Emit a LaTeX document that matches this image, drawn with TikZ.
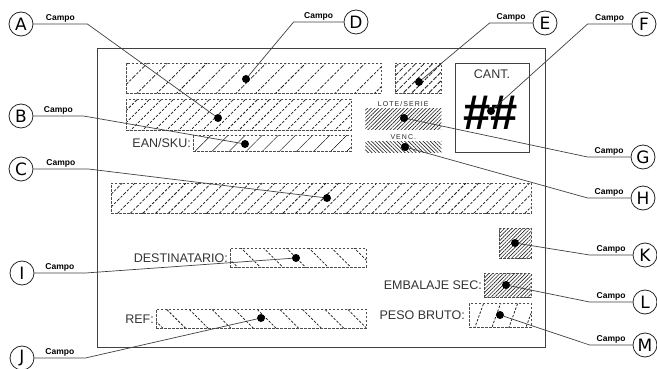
\documentclass[tikz,border=0pt]{standalone}
\usepackage{fontspec}
\setmainfont{Liberation Sans}
\newfontfamily\circfont{DejaVu Sans}
\usetikzlibrary{patterns.meta, positioning}

\begin{document}
\begin{tikzpicture}[
  x=1pt, y=-1pt,
  every node/.style={font=\fontsize{12.5}{14}\selectfont},
  frame/.style={draw=black!75, line width=0.8pt, anchor=north west, inner sep=0pt},
  field/.style={draw=black!70, dash pattern=on 2.4pt off 1.6pt, line width=0.6pt, anchor=north west, inner sep=0pt},
  bare/.style={anchor=north west, inner sep=0pt},
  hatch/.style args={#1/#2}{pattern={Lines[angle=#1, distance=#2, line width=0.75pt]}, pattern color=black!90},
  dense/.style={pattern={Lines[angle=#1, distance=2.6pt, line width=0.65pt]}, pattern color=black!85},
  lbl/.style={text=black!80, inner sep=1pt},
  tiny/.style={font=\fontsize{7}{8}\selectfont\addfontfeature{LetterSpace=15}, text=black!85, inner sep=1pt},
  dot/.style={circle, fill=black, minimum size=8pt, inner sep=0pt},
  callout/.style={circle, draw=black!85, line width=0.8pt, fill=white, minimum size=24pt, inner sep=0pt, font=\circfont\fontsize{17}{17}\selectfont},
  leader/.style={draw=black!75, line width=0.7pt},
  campo/.style={font=\fontsize{8.5}{9}\selectfont\bfseries, above, inner sep=1.5pt}
]
\useasboundingbox (0,0) rectangle (657,369);

% === LABEL FRAME ===
\node[frame, minimum width=448pt, minimum height=299pt] (panel) at (97,48) {};
\node[frame, minimum width=74pt, minimum height=89pt] (cantbox) at (455,63) {};
\node[lbl] (cant) at (492,74) {CANT.};
\node[font=\fontsize{49}{49}\selectfont\bfseries] (hash) at (491,113) {\#\#};

% === FIELDS ===
\node[field, hatch=45/14pt, minimum width=255pt, minimum height=30pt] (fD) at (126,63) {};
\node[field, hatch=45/6pt, minimum width=46pt, minimum height=30pt] (fE) at (395,63) {};
\node[field, hatch=45/8.5pt, minimum width=225pt, minimum height=31pt] (fA) at (126,99) {};
\node[field, hatch=45/13pt, minimum width=158pt, minimum height=16pt] (fEan) at (193,135) {};
\node[lbl, left=1pt of fEan] (tEan) {EAN/SKU:};

\node[bare, dense=45, minimum width=76pt, minimum height=21pt] (fLote) at (365,108) {};
\node[tiny, above=0pt of fLote] (tLote) {LOTE/SERIE};
\node[bare, dense=-45, minimum width=76pt, minimum height=11pt] (fVenc) at (365,141) {};
\node[tiny, above=0pt of fVenc] (tVenc) {VENC.};

\node[field, hatch=45/9pt, minimum width=420pt, minimum height=30pt] (fC) at (111,183) {};

\node[field, dense=45, minimum width=32pt, minimum height=30pt] (fK) at (499,228) {};
\node[field, hatch=-45/16pt, minimum width=136pt, minimum height=19pt] (fDest) at (230,248) {};
\node[lbl, left=1pt of fDest] (tDest) {DESTINATARIO:};
\node[field, dense=45, minimum width=47pt, minimum height=24pt] (fEmb) at (484,273) {};
\node[lbl, left=1pt of fEmb] (tEmb) {EMBALAJE SEC:};
\node[field, hatch=-45/16pt, minimum width=210pt, minimum height=19pt] (fRef) at (156,309) {};
\node[lbl, left=1pt of fRef] (tRef) {REF:};
\node[field, hatch=70/16pt, minimum width=62pt, minimum height=24pt] (fPeso) at (469,303) {};
\node[lbl, left=3pt of fPeso] (tPeso) {PESO BRUTO:};

% === DOTS ===
\node[dot] (pA) at (218,118) {};
\node[dot] (pB) at (245,144) {};
\node[dot] (pC) at (327,198) {};
\node[dot] (pD) at (246,79) {};
\node[dot] (pE) at (419,82) {};
\node[dot] (pF) at (491,111) {};
\node[dot] (pG) at (404,118) {};
\node[dot] (pH) at (405,147) {};
\node[dot] (pI) at (296,258) {};
\node[dot] (pJ) at (261,318) {};
\node[dot] (pK) at (515,243) {};
\node[dot] (pL) at (506,285) {};
\node[dot] (pM) at (500,315) {};

% === CALLOUTS ===
\node[callout] (cA) at (21,24) {A};
\node[callout] (cB) at (21,116) {B};
\node[callout] (cC) at (21,169) {C};
\node[callout] (cI) at (22,273) {I};
\node[callout] (cJ) at (22,358) {J};
\node[callout] (cD) at (356,22) {D};
\node[callout] (cE) at (545,23) {E};
\node[callout] (cF) at (644,24) {F};
\node[callout] (cG) at (643,157) {G};
\node[callout] (cH) at (643,198) {H};
\node[callout] (cK) at (645,255) {K};
\node[callout] (cL) at (645,302) {L};
\node[callout] (cM) at (645,345) {M};

% left side
\draw[leader] (pA) -- ([xshift=54pt]cA.east) -- node[campo] {Campo} (cA.east);
\draw[leader] (pB) -- ([xshift=50pt]cB.east) -- node[campo] {Campo} (cB.east);
\draw[leader] (pC) -- ([xshift=55pt]cC.east) -- node[campo] {Campo} (cC.east);
\draw[leader] (pI) -- ([xshift=51pt]cI.east) -- node[campo] {Campo} (cI.east);
\draw[leader] (pJ) -- ([xshift=51pt]cJ.east) -- node[campo] {Campo} (cJ.east);
% right side
\draw[leader] (pD) -- ([xshift=-50pt]cD.west) -- node[campo] {Campo} (cD.west);
\draw[leader] (pE) -- ([xshift=-43pt]cE.west) -- node[campo] {Campo} (cE.west);
\draw[leader] (pF) -- ([xshift=-44pt]cF.west) -- node[campo] {Campo} (cF.west);
\draw[leader] (pG) -- ([xshift=-43pt]cG.west) -- node[campo] {Campo} (cG.west);
\draw[leader] (pH) -- ([xshift=-43pt]cH.west) -- node[campo] {Campo} (cH.west);
\draw[leader] (pK) -- ([xshift=-43pt]cK.west) -- node[campo] {Campo} (cK.west);
\draw[leader] (pL) -- ([xshift=-43pt]cL.west) -- node[campo] {Campo} (cL.west);
\draw[leader] (pM) -- ([xshift=-43pt]cM.west) -- node[campo] {Campo} (cM.west);

\end{tikzpicture}
\end{document}
